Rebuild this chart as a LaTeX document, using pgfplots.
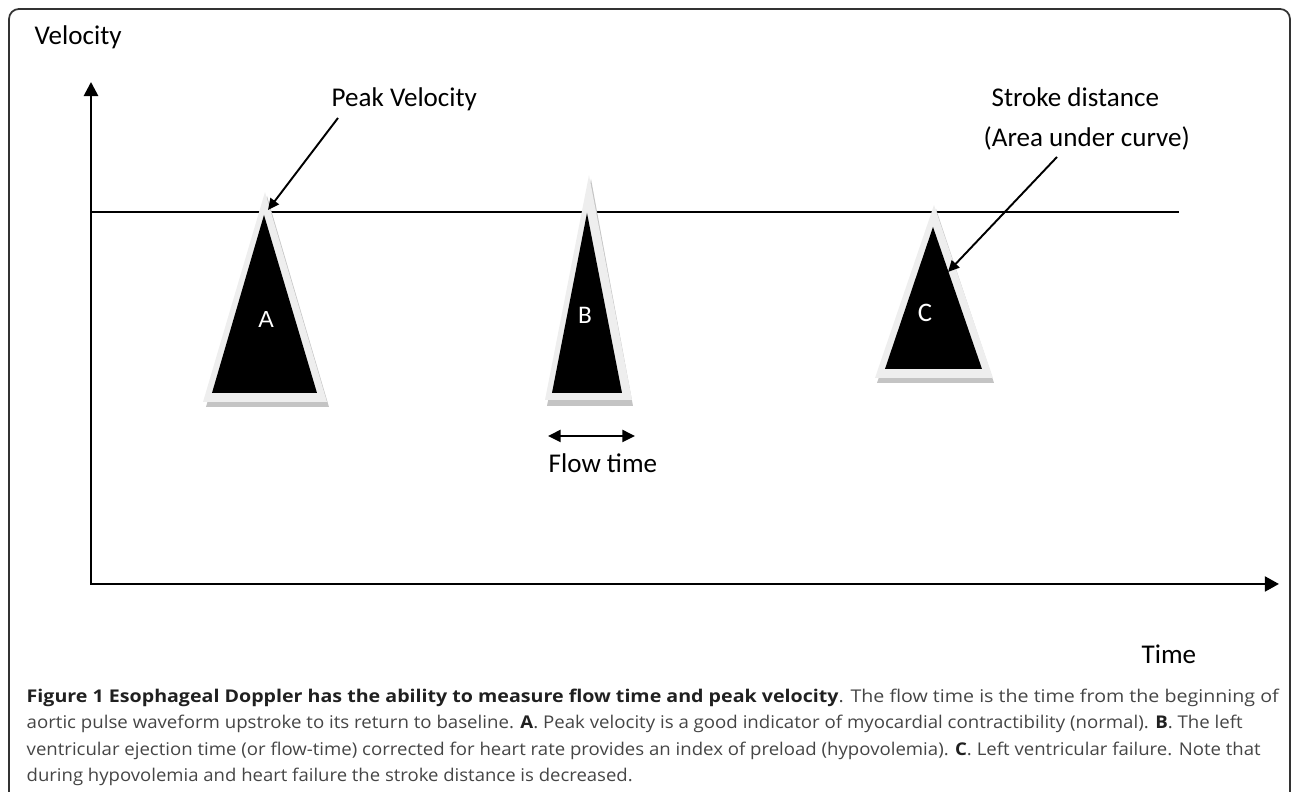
\documentclass[border=0pt]{standalone}
\usepackage{pgfplots}
\pgfplotsset{compat=1.18}
\usepackage{fontspec}
\setmainfont{Carlito}
\newfontfamily\capfont{Open Sans}
\newfontfamily\arialfont{Liberation Sans}
\usetikzlibrary{arrows.meta}
\definecolor{capgray}{HTML}{454545}
\definecolor{capbold}{HTML}{202020}
\definecolor{shade}{HTML}{C4C4C4}
\definecolor{rim}{HTML}{EEEEEE}
\begin{document}
\begin{tikzpicture}
\begin{axis}[scale only axis, width=12.92cm, height=7.92cm,
  xmin=0, xmax=1292, ymin=0, ymax=792, y dir=reverse,
  hide axis, clip=false]
% frame
\addplot[draw=black!80, line width=0.5pt, rounded corners=0.1cm] coordinates {(9,792) (9,9) (1290,9) (1290,792)};
% baseline (peak velocity level)
\addplot[black, line width=0.4pt] coordinates {(91,212) (1179,212)};
% axes
\addplot[black, line width=0.75pt, {Triangle[length=4pt,width=4pt]}-{Triangle[length=4pt,width=4.2pt]}] coordinates {(91,82) (91,584) (1279,584)};
% triangle A
\addplot[fill=shade, draw=none] coordinates {(267,196) (206,407) (329,407)};
\addplot[fill=rim, draw=none] coordinates {(265,192) (203,402) (327,402)};
\addplot[fill=black, draw=none] coordinates {(264,215) (212,393) (317,393)};
% triangle B
\addplot[fill=shade, draw=none] coordinates {(591,179) (547,406) (633,406)};
\addplot[fill=rim, draw=none] coordinates {(589,175) (545,400) (632,400)};
\addplot[fill=black, draw=none] coordinates {(587,213) (552,393) (622,393)};
% triangle C
\addplot[fill=shade, draw=none] coordinates {(936,209) (877,383) (994,383)};
\addplot[fill=rim, draw=none] coordinates {(934,205) (875,378) (993,378)};
\addplot[fill=black, draw=none] coordinates {(933,227) (885,369) (982,369)};
% annotation arrows
\addplot[black, line width=0.55pt, -{Triangle[length=3.2pt,width=3pt]}] coordinates {(338,118) (268,210)};
\addplot[black, line width=0.55pt, -{Triangle[length=3.2pt,width=3pt]}] coordinates {(1057,157) (948,272)};
\addplot[black, line width=0.7pt, {Triangle[length=3.6pt,width=3.4pt]}-{Triangle[length=3.6pt,width=3.4pt]}] coordinates {(548,436) (635,436)};
% letters
\node[text=white, inner sep=0pt, font=\arialfont\fontsize{6.6}{7}\selectfont] at (axis cs:266,320) {A};
\node[text=white, inner sep=0pt, font=\fontsize{7.2}{8}\selectfont] at (axis cs:585,315) {B};
\node[text=white, inner sep=0pt, font=\fontsize{7.6}{8}\selectfont] at (axis cs:925,313) {C};
% labels
\node[anchor=base west, inner sep=0pt, font=\fontsize{7.7}{9}\selectfont] at (axis cs:34,45) {Velocity};
\node[anchor=base west, inner sep=0pt, font=\fontsize{7.7}{9}\selectfont] at (axis cs:331,107) {Peak Velocity};
\node[anchor=base west, inner sep=0pt, font=\fontsize{7.7}{9}\selectfont] at (axis cs:991,107) {Stroke distance};
\node[anchor=base west, inner sep=0pt, font=\fontsize{7.7}{9}\selectfont] at (axis cs:983,147) {(Area under curve)};
\node[anchor=base west, inner sep=0pt, font=\fontsize{7.7}{9}\selectfont] at (axis cs:548,473) {Flow time};
\node[anchor=base west, inner sep=0pt, font=\fontsize{7.7}{9}\selectfont] at (axis cs:1141,664) {Time};
% caption
\node[anchor=base west, inner sep=0pt, text=capgray, font=\capfont\fontsize{5.0}{6}\selectfont] at (axis cs:26,703) {\resizebox{12.52cm}{\height}{\textcolor{capbold}{\textbf{Figure 1 Esophageal Doppler has the ability to measure flow time and peak velocity}}. The flow time is the time from the beginning of}};
\node[anchor=base west, inner sep=0pt, text=capgray, font=\capfont\fontsize{5.0}{6}\selectfont] at (axis cs:26,729) {\resizebox{12.16cm}{\height}{aortic pulse waveform upstroke to its return to baseline. \textcolor{capbold}{\textbf{A}}. Peak velocity is a good indicator of myocardial contractibility (normal). \textcolor{capbold}{\textbf{B}}. The left}};
\node[anchor=base west, inner sep=0pt, text=capgray, font=\capfont\fontsize{5.0}{6}\selectfont] at (axis cs:26,756) {\resizebox{12.34cm}{\height}{ventricular ejection time (or flow-time) corrected for heart rate provides an index of preload (hypovolemia). \textcolor{capbold}{\textbf{C}}. Left ventricular failure. Note that}};
\node[anchor=base west, inner sep=0pt, text=capgray, font=\capfont\fontsize{5.0}{6}\selectfont] at (axis cs:26,782) {\resizebox{6.06cm}{\height}{during hypovolemia and heart failure the stroke distance is decreased.}};
\end{axis}
\pgfresetboundingbox
\useasboundingbox (0,0) rectangle (12.92cm,7.92cm);
\end{tikzpicture}
\end{document}
